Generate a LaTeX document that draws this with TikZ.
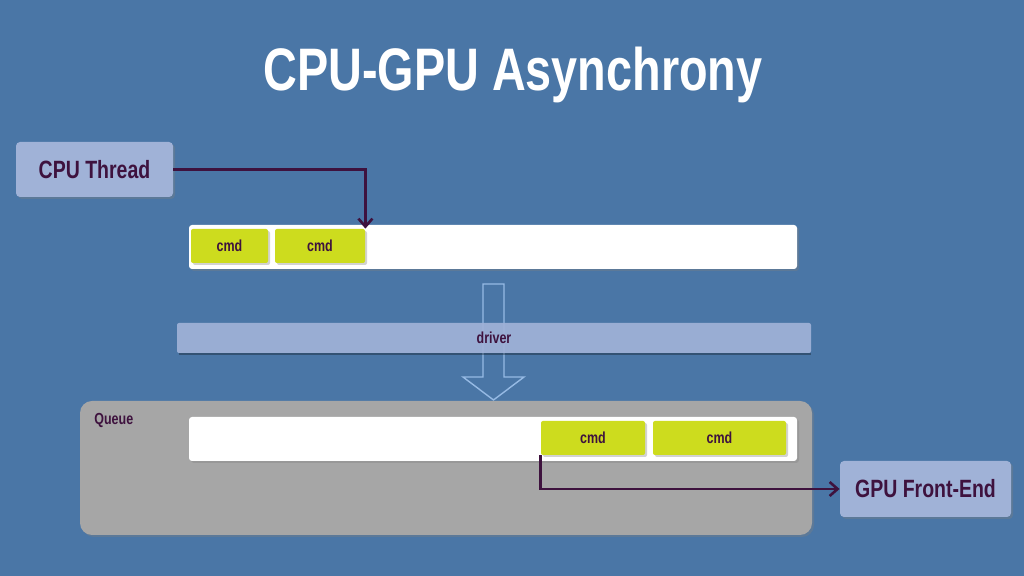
\documentclass[tikz,border=0pt]{standalone}
\usepackage{xcolor}
\usepackage{fontspec}
\setmainfont{Liberation Sans}[FakeStretch=0.78]
\usetikzlibrary{positioning,calc,arrows.meta,shadows}

\definecolor{slideblue}{RGB}{74,118,166}
\definecolor{paleblue}{RGB}{160,178,215}
\definecolor{ink}{RGB}{62,18,62}
\definecolor{cmdgreen}{RGB}{205,220,30}
\definecolor{queuegray}{RGB}{166,166,166}
\definecolor{flowline}{RGB}{150,186,228}

\def\u{0.5pt}

\tikzset{
	shade box/.style={inner sep=0pt, text=ink, font=\bfseries,
		drop shadow={shadow xshift=1pt,shadow yshift=-1pt,opacity=.35}},
	unit box/.style={shade box, fill=paleblue, rounded corners=2pt,
		font=\bfseries\fontsize{12.5}{14}\selectfont},
	cmd box/.style={shade box, fill=cmdgreen, rounded corners=1pt,
		minimum height=34*\u, font=\bfseries\fontsize{8}{9}\selectfont},
	lane/.style={shade box, fill=white, rounded corners=1.5pt,
		minimum width=608*\u, minimum height=44*\u},
	link/.style={draw=ink, line width=1.3pt, -{Straight Barb[length=4pt,width=7pt]}}
}

\begin{document}
\begin{tikzpicture}[x=\u,y=-\u]
		\fill[slideblue] (0,0) rectangle (1024,576);
		\node[text=white, font=\bfseries\fontsize{30}{32}\selectfont] (title) at (513,75) {CPU-GPU Asynchrony};
		% host side
		\node[unit box, minimum width=157*\u, minimum height=55*\u] (cpu) at (94.5,169.5) {CPU Thread};
		\node[lane] (hostlane) at (493,247) {};
		\node[cmd box, minimum width=77*\u] (cmdA) at (229.5,246) {cmd};
		\node[cmd box, minimum width=90*\u] (cmdB) at (320,246) {cmd};
		\draw[link] (cpu.east) -| (cmdB.north east);
		% driver
		\draw[flowline, line width=0.7pt] (483,284) -- (504,284) -- (504,377) -- (524,377)
			-- (493.5,400) -- (463,377) -- (483,377) -- cycle;
		\node[inner sep=0pt, fill=paleblue, fill opacity=.93, text opacity=1, text=ink, rounded corners=1pt,
			minimum width=634*\u, minimum height=30*\u,
			font=\bfseries\fontsize{8}{9}\selectfont] (driver) at (494,338) {driver};
		\draw[black, opacity=.3, line width=1pt] (driver.south west) ++(1pt,-0.5pt) -- ([yshift=-0.5pt]driver.south east);
		% device side
		\node[shade box, fill=queuegray, rounded corners=6pt, minimum width=732*\u, minimum height=134*\u] (queue) at (446,468) {};
		\node[text=ink, font=\bfseries\fontsize{8}{9}\selectfont, anchor=west, inner sep=0pt] (qlabel) at (94,420) {Queue};
		\node[lane] (devlane) at (493,439) {};
		\node[cmd box, minimum width=104*\u] (cmdC) at (593,438) {cmd};
		\node[cmd box, minimum width=133*\u] (cmdD) at (719.5,438) {cmd};
		\node[unit box, minimum width=171*\u, minimum height=56*\u] (gpu) at (925.5,489) {GPU Front-End};
		\draw[link] (cmdC.south west) |- (gpu.west);
	\end{tikzpicture}
\end{document}
